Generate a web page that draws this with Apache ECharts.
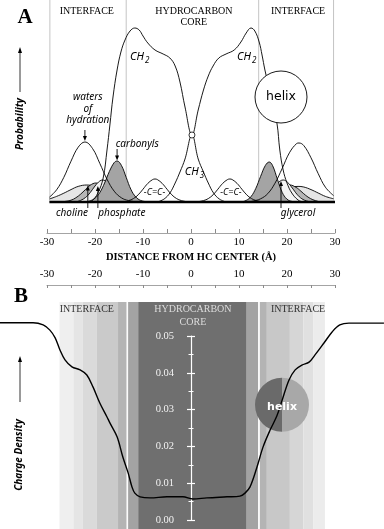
<!DOCTYPE html>
<html><head><meta charset="utf-8">
<script src="https://cdn.jsdelivr.net/npm/echarts@6/dist/echarts.min.js"></script>
<style>html,body{margin:0;padding:0;background:#fff}#c{width:384px;height:529px}</style>
</head><body><div id="c"></div>
<script>
// ---------- DATA ----------
// Panel A: relative probability (arbitrary units) vs distance from HC center (Å)
const ch2 = [[-21.2,0],[-20.6,0.6],[-19.4,4.5],[-18.3,12],[-17.5,26],[-16.9,38.5],[-16.25,52.5],[-15.4,66],[-14.6,75],[-13.75,81],[-12.7,85.5],[-11.7,87],[-10.8,86],[-10,83],[-9,79.5],[-7.5,76],[-5.8,74],[-4.4,72],[-3.3,68],[-2.3,60],[-1.25,47.5],[0.2,33.5],[1.5,46],[2.6,56],[3.6,63],[4.6,68],[5.8,72],[7.3,74],[9,76],[10.4,80],[11.5,84.5],[12.5,87],[13.3,85.5],[14.2,80],[14.8,73.5],[15.4,66],[16.7,52.5],[17.9,39.5],[18.5,26],[19.2,16],[20,9.5],[21,4.5],[22.3,1],[23.3,0]];
const ch3 = [[-7,0],[-5.6,1.5],[-4.4,4.5],[-3.3,9.5],[-2.3,15],[-1.25,21.5],[0.2,33.5],[1.5,21.5],[2.6,15],[3.6,9.5],[4.7,4.5],[5.9,1.5],[7.3,0]];
const ccL = [[-13,0.7],[-12,1.7],[-11,3.6],[-10,6.4],[-9,9.3],[-8,11.2],[-7.5,11.5],[-7,11.2],[-6,9.3],[-5,6.4],[-4,3.6],[-3,1.7],[-2,0.7],[-1,0.2]];
const ccR = [[1.6,0.2],[2.6,0.7],[3.6,1.7],[4.6,3.6],[5.6,6.4],[6.6,9.3],[7.6,11.2],[8.1,11.5],[8.6,11.2],[9.6,9.3],[10.6,6.4],[11.6,3.6],[12.6,1.7],[13.6,0.7],[14.6,0.2]];
const waterL = [[-29.5,2.4],[-28,6.1],[-26.5,12.3],[-25,20.4],[-23.5,27.4],[-22.1,30],[-20.5,26.7],[-19,19.3],[-17.5,11.4],[-16,5.4],[-14.5,2.1],[-13,0.7],[-11,0]];
const waterR = [[12,0],[13,0.5],[14.5,1.6],[16,4.2],[17.5,9.4],[19,16.8],[20.5,24.6],[22,29.2],[22.5,29.5],[23.5,28.2],[25,22.1],[26.5,14.2],[28,7.4],[29.7,3.2]];
const carbL = [[-22,0],[-21,0.6],[-20,1.9],[-19,4.7],[-18,9.5],[-17,15.3],[-16,19.7],[-15.4,20.5],[-14.5,18.3],[-13.5,12.3],[-12.5,6.2],[-11.5,2.5],[-10.5,0.8],[-9.5,0.2],[-8.5,0]];
const carbR = [[10.5,0],[11.5,0.8],[12.5,2.7],[13.5,6.8],[14.5,12.8],[15.5,18.3],[16.3,20],[17,18.2],[18,11.4],[19,4.8],[20,1.4],[21,0.3],[22,0]];
const cholL = [[-29.5,1.5],[-28,2.8],[-26.5,4.4],[-25,6.2],[-23.5,7.8],[-21.7,8.5],[-20,7.8],[-18.5,6.4],[-17,4.5],[-15.5,2.9],[-14,1.6],[-12.5,0.8],[-11,0.3],[-9.5,0]];
const cholR = [[12,0],[13.5,0.7],[15,1.5],[16.5,2.7],[18,4.4],[19.5,6.1],[21,7.4],[22.3,7.8],[23.5,7.5],[25,6.2],[26.5,4.5],[28,2.8],[29.7,1.6]];
const phosL = [[-26.5,0.2],[-25,0.9],[-24,2.1],[-23,3.9],[-22,6.2],[-21,8.4],[-19.8,9.5],[-18.5,8.2],[-17.5,6.0],[-16.5,3.7],[-15.5,1.9],[-14.5,0.8],[-13.5,0.3],[-12.5,0]];
const phosR = [[14.5,0.2],[15.4,0.8],[16.4,1.8],[17.4,3.5],[18.4,5.6],[19.4,7.5],[20.6,8.5],[21.9,7.3],[22.9,5.4],[23.9,3.3],[24.9,1.7],[25.9,0.7],[27,0]];
const glyL = [[-24,0],[-23,0.8],[-22,2.2],[-21,4.7],[-20,8.0],[-19,10.5],[-18.4,11],[-17.5,9.9],[-16.5,7.0],[-15.5,3.8],[-14.5,1.6],[-13.5,0.5],[-12.5,0]];
const glyR = [[13.6,0],[14.6,0.8],[15.6,2.2],[16.6,4.7],[17.6,8.0],[18.6,10.5],[19.2,11],[20.1,9.9],[21.1,7.0],[22.1,3.8],[23.1,1.6],[24.1,0.5],[25.1,0]];
const baseRange = [-29.5, 30];
const zoneEdgesA = [-29.4, -13.5, 14.1, 29.7];
const xTicks = [-30,-20,-10,0,10,20,30];

// Panel B: charge density vs distance (Å)
const charge = [[-39.8,0.0536],[-32.9,0.0536],[-30.8,0.0530],[-29.4,0.0516],[-28.3,0.0495],[-27.3,0.0462],[-26.25,0.0435],[-24.8,0.0416],[-23.1,0.0408],[-21.7,0.0394],[-20.4,0.0361],[-19.0,0.0318],[-17.5,0.0280],[-16.9,0.0264],[-15.4,0.0226],[-14.2,0.0171],[-13.1,0.0128],[-12.3,0.0090],[-11.7,0.0073],[-10.6,0.0063],[-8.5,0.0060],[-5.0,0.0063],[-1.7,0.0063],[0.4,0.0057],[3.3,0.0060],[7.5,0.0063],[10.2,0.0065],[11.25,0.0073],[12.3,0.0090],[13.75,0.0144],[15.0,0.0198],[16.5,0.0245],[17.9,0.0283],[19.0,0.0326],[20.4,0.0380],[21.7,0.0408],[23.1,0.0421],[24.6,0.0429],[25.8,0.0448],[27.7,0.0481],[29.4,0.0511],[31.0,0.0530],[32.9,0.0535],[40.2,0.0535]];
const bandEdgesB = [-27.4,-24.5,-22.6,-19.6,-15.2,-13.4,-13.1,-11.0,11.6,14.0,14.35,15.8,20.6,23.4,25.5,27.9];
const densityTicks = [0, 0.01, 0.02, 0.03, 0.04, 0.05];

// ---------- STYLE / LAYOUT ----------
const bandColors = ['#efefef','#e5e5e5','#dadada','#cacaca','#b4b4b4','#fbfbfb','#a3a3a3','#6f6f6f','#a3a3a3','#fbfbfb','#b4b4b4','#c8c8c8','#d6d6d6','#e0e0e0','#ececec'];
const SERIF = '"Liberation Serif","Times New Roman",serif';
const SANS = '"Noto Sans","DejaVu Sans",sans-serif';
const W = 384;
const pxL = 47, pxR = 335;
const pxPerA = (pxR - pxL) / 60;
const fullMin = -30 - pxL / pxPerA, fullMax = 30 + (W - pxR) / pxPerA;
const zeroPx = pxL + 30 * pxPerA;
const aMax = 202 / 2, aMin = -(233 - 202) / 2;
const bPxPer = (520 - 336) / 0.05;
const bMax = (520 - 285) / bPxPer, bMin = -(529 - 520) / bPxPer;
const bandTop = (520 - 302) / bPxPer;

const chart = echarts.init(document.getElementById('c'));

function fill(data, color, z) {
  return {type:'line', xAxisIndex:0, yAxisIndex:0, data, smooth:0.4, symbol:'none', silent:true,
    lineStyle:{color:'#000', width:0.9}, areaStyle:{color, opacity:1}, z};
}
function curve(data, z, w) {
  return {type:'line', xAxisIndex:0, yAxisIndex:0, data, smooth:0.4, symbol:'none', silent:true,
    lineStyle:{color:'#000', width:w||0.9}, z};
}
const bands = [];
for (let i = 0; i < bandEdgesB.length - 1; i++) bands.push([bandEdgesB[i], bandEdgesB[i+1]]);

const series = [];
zoneEdgesA.forEach(x => series.push({type:'line', xAxisIndex:0, yAxisIndex:0, data:[[x,0],[x,aMax]], symbol:'none', silent:true, lineStyle:{color:'#c4c4c4', width:1}, z:1}));
series.push(fill(cholL,'#e6e6e6',2), fill(cholR,'#e6e6e6',2));
series.push(fill(phosL,'#b6b6b6',3), fill(phosR,'#b6b6b6',3));
series.push(fill(glyL,'#f4f4f4',4), fill(glyR,'#f4f4f4',4));
series.push(fill(carbL,'#a4a4a4',5), fill(carbR,'#a4a4a4',5));
[waterL, waterR, ch2, ch3, ccL, ccR].forEach(d => series.push(curve(d, 6)));
series.push({type:'line', xAxisIndex:0, yAxisIndex:0, data:[[baseRange[0],0],[baseRange[1],0]], symbol:'none', silent:true, lineStyle:{color:'#000', width:2.3}, z:7});
series.push({type:'custom', xAxisIndex:1, yAxisIndex:1, data:bands, silent:true, z:1,
  renderItem:(params, api) => {
    const p0 = api.coord([api.value(0), bandTop]);
    const p1 = api.coord([api.value(1), bMin]);
    return {type:'rect', shape:{x:p0[0], y:p0[1], width:p1[0]-p0[0], height:p1[1]-p0[1]}, style:{fill:bandColors[params.dataIndex]}};
  }});
series.push({type:'line', xAxisIndex:1, yAxisIndex:1, data:charge, smooth:0.35, symbol:'none', silent:true, lineStyle:{color:'#000', width:1.4}, z:20});

const xLab = {color:'#000', fontFamily:SERIF, fontSize:11, formatter:v => (v % 10 === 0 ? String(v) : '')};
const densAxis = (withLabels, inside) => ({gridIndex:3, type:'value', min:0, max:0.05, interval:0.01, position:'left', z:10,
  axisLine:{show:withLabels, onZero:false, lineStyle:{color:'#fff', width:1.2}},
  axisTick:{show:true, inside, length:4, lineStyle:{color:'#fff', width:1.2}},
  minorTick:{show:true, splitNumber:2, length:2.5, lineStyle:{color:'#fff', width:1}},
  axisLabel:{show:withLabels, color:'#f2f2f2', fontFamily:SERIF, fontSize:10.5, margin:17, formatter:v => v.toFixed(2)},
  splitLine:{show:false}, minorSplitLine:{show:false}});

chart.setOption({
  animation:false,
  backgroundColor:'#fff',
  grid:[
    {left:pxL, width:pxR-pxL, top:0, height:233},
    {left:0, width:W, top:285, height:529-285},
    {left:pxL, width:pxR-pxL, top:285, height:529-285},
    {left:zeroPx, width:20, top:336, height:184}
  ],
  xAxis:[
    {gridIndex:0, type:'value', min:-30, max:30, interval:5, position:'bottom',
     axisLine:{onZero:false, lineStyle:{color:'#9a9a9a', width:0.9}}, axisTick:{inside:true, length:4, lineStyle:{color:'#8a8a8a'}},
     axisLabel:Object.assign({margin:4}, xLab), splitLine:{show:false},
     name:'DISTANCE FROM HC CENTER (Å)', nameLocation:'middle', nameGap:19,
     nameTextStyle:{fontFamily:SERIF, fontWeight:'bold', fontSize:10.5, color:'#000'}},
    {gridIndex:1, type:'value', min:fullMin, max:fullMax, show:false},
    {gridIndex:2, type:'value', min:-30, max:30, interval:5, position:'top',
     axisLine:{onZero:false, lineStyle:{color:'#9a9a9a', width:0.9}}, axisTick:{inside:true, length:3, lineStyle:{color:'#8a8a8a'}},
     axisLabel:Object.assign({margin:5}, xLab), splitLine:{show:false}},
    {gridIndex:3, type:'value', min:0, max:1, show:false}
  ],
  yAxis:[
    {gridIndex:0, type:'value', min:aMin, max:aMax, show:false},
    {gridIndex:1, type:'value', min:bMin, max:bMax, show:false},
    {gridIndex:2, type:'value', min:0, max:1, show:false},
    densAxis(true, false),
    densAxis(false, true)
  ],
  series
});

// ---------- ANNOTATIONS ----------
const P0 = (x, y) => chart.convertToPixel({gridIndex:0}, [x, y]);
const P1 = (x, y) => chart.convertToPixel({gridIndex:1}, [x, y]);
const g = [];
function T(p, text, o) {
  o = o || {};
  g.push({type:'text', x:p[0], y:p[1], rotation:o.rot || 0, z:o.z || 50, silent:true,
    style:{text, fill:o.fill || '#000', fontFamily:o.ff || SANS, fontSize:o.fs || 10,
      fontStyle:o.st || 'normal', fontWeight:o.fw || 'normal', align:o.al || 'center',
      verticalAlign:'middle', lineHeight:o.lh, rich:o.rich}});
}
function ARROW(a, b, o) {
  o = o || {};
  const col = o.col || '#000';
  const dx = b[0]-a[0], dy = b[1]-a[1], L = Math.hypot(dx, dy) || 1;
  const ux = dx/L, uy = dy/L, hl = o.hl || 5, hw = o.hw || 2;
  g.push({type:'line', z:50, silent:true, shape:{x1:a[0], y1:a[1], x2:b[0]-ux*hl*0.6, y2:b[1]-uy*hl*0.6}, style:{stroke:col, lineWidth:o.lw || 0.9}});
  g.push({type:'polygon', z:50, silent:true, shape:{points:[[b[0],b[1]],[b[0]-ux*hl-uy*hw, b[1]-uy*hl+ux*hw],[b[0]-ux*hl+uy*hw, b[1]-uy*hl-ux*hw]]}, style:{fill:col}});
}
const chRich = {a:{fontFamily:SANS, fontStyle:'italic', fontSize:11}, b:{fontFamily:SANS, fontStyle:'italic', fontSize:8, padding:[7,0,0,1]}};

// Titles and axis names
T([25,18], 'A', {ff:SERIF, fs:21, fw:'bold'});
T([21,297], 'B', {ff:SERIF, fs:21, fw:'bold'});
T([20,124], 'Probability', {rot:Math.PI/2, fs:10, st:'italic', fw:'bold'});
ARROW([20,92], [20,47], {lw:0.8, hl:6, hw:2});
T([19,455], 'Charge Density', {rot:Math.PI/2, fs:10, st:'italic', fw:'bold'});
ARROW([20,402], [20,356], {lw:0.8, hl:6, hw:2});

// Panel A region headers
T(P0(-21.7,95.5), 'INTERFACE', {ff:SERIF, fs:10});
T(P0(0.6,95.5), 'HYDROCARBON', {ff:SERIF, fs:10});
T(P0(0.6,90), 'CORE', {ff:SERIF, fs:10});
T(P0(22.3,95.5), 'INTERFACE', {ff:SERIF, fs:10});
// Panel A curve labels
T(P0(-12.7,72.5), '{a|CH}{b|2}', {al:'left', rich:chRich});
T(P0(9.6,72.5), '{a|CH}{b|2}', {al:'left', rich:chRich});
T(P0(-1.3,15), '{a|CH}{b|3}', {al:'left', rich:chRich});
T(P0(-7.6,5), '-C=C-', {st:'italic', fs:9});
T(P0(8.3,5), '-C=C-', {st:'italic', fs:9});
T(P0(-21.5,46.5), 'waters\nof\nhydration', {st:'italic', fs:10, lh:11.5});
ARROW(P0(-22.1,36), P0(-22.1,30.5));
T(P0(-11.2,29), 'carbonyls', {st:'italic', fs:10});
ARROW(P0(-15.4,26.5), P0(-15.4,20.8));
T(P0(-24.8,-5.5), 'choline', {st:'italic', fs:10});
ARROW(P0(-21.5,-3), P0(-21.5,8.3));
T(P0(-14.4,-5.5), 'phosphate', {st:'italic', fs:10});
ARROW(P0(-19.4,-3), P0(-19.4,8));
T(P0(22.3,-5.5), 'glycerol', {st:'italic', fs:10});
ARROW(P0(18.75,-3), P0(18.75,10.5));
const hA = P0(18.75, 52.5);
g.push({type:'circle', z:30, silent:true, shape:{cx:hA[0], cy:hA[1], r:26}, style:{fill:'#fff', stroke:'#000', lineWidth:0.9}});
T(hA, 'helix', {ff:'"DejaVu Sans",sans-serif', fs:12.5, z:40});
const cross = P0(0.2, 33.5);
g.push({type:'circle', z:35, silent:true, shape:{cx:cross[0], cy:cross[1], r:3}, style:{fill:'#fff', stroke:'#000', lineWidth:0.8}});

// Panel B headers and helix
T(P1(-21.7,0.0571), 'INTERFACE', {ff:SERIF, fs:10, fill:'#333'});
T(P1(0.4,0.0571), 'HYDROCARBON', {ff:SERIF, fs:10, fill:'#dcdcdc'});
T(P1(0.4,0.0538), 'CORE', {ff:SERIF, fs:10, fill:'#dcdcdc'});
T(P1(22.3,0.0571), 'INTERFACE', {ff:SERIF, fs:10, fill:'#333'});
const hB = P1(18.96, 0.0313);
g.push({type:'sector', z:15, silent:true, shape:{cx:hB[0], cy:hB[1], r:27, r0:0, startAngle:Math.PI/2, endAngle:Math.PI*1.5, clockwise:true}, style:{fill:'#6a6a6a'}});
g.push({type:'sector', z:15, silent:true, shape:{cx:hB[0], cy:hB[1], r:27, r0:0, startAngle:-Math.PI/2, endAngle:Math.PI/2, clockwise:true}, style:{fill:'#a8a8a8'}});
T([hB[0], hB[1]+2], 'helix', {ff:'"DejaVu Sans",sans-serif', fs:11, fw:'bold', fill:'#fff', z:40});

chart.setOption({graphic:{elements:g}});
</script>
</body></html>
